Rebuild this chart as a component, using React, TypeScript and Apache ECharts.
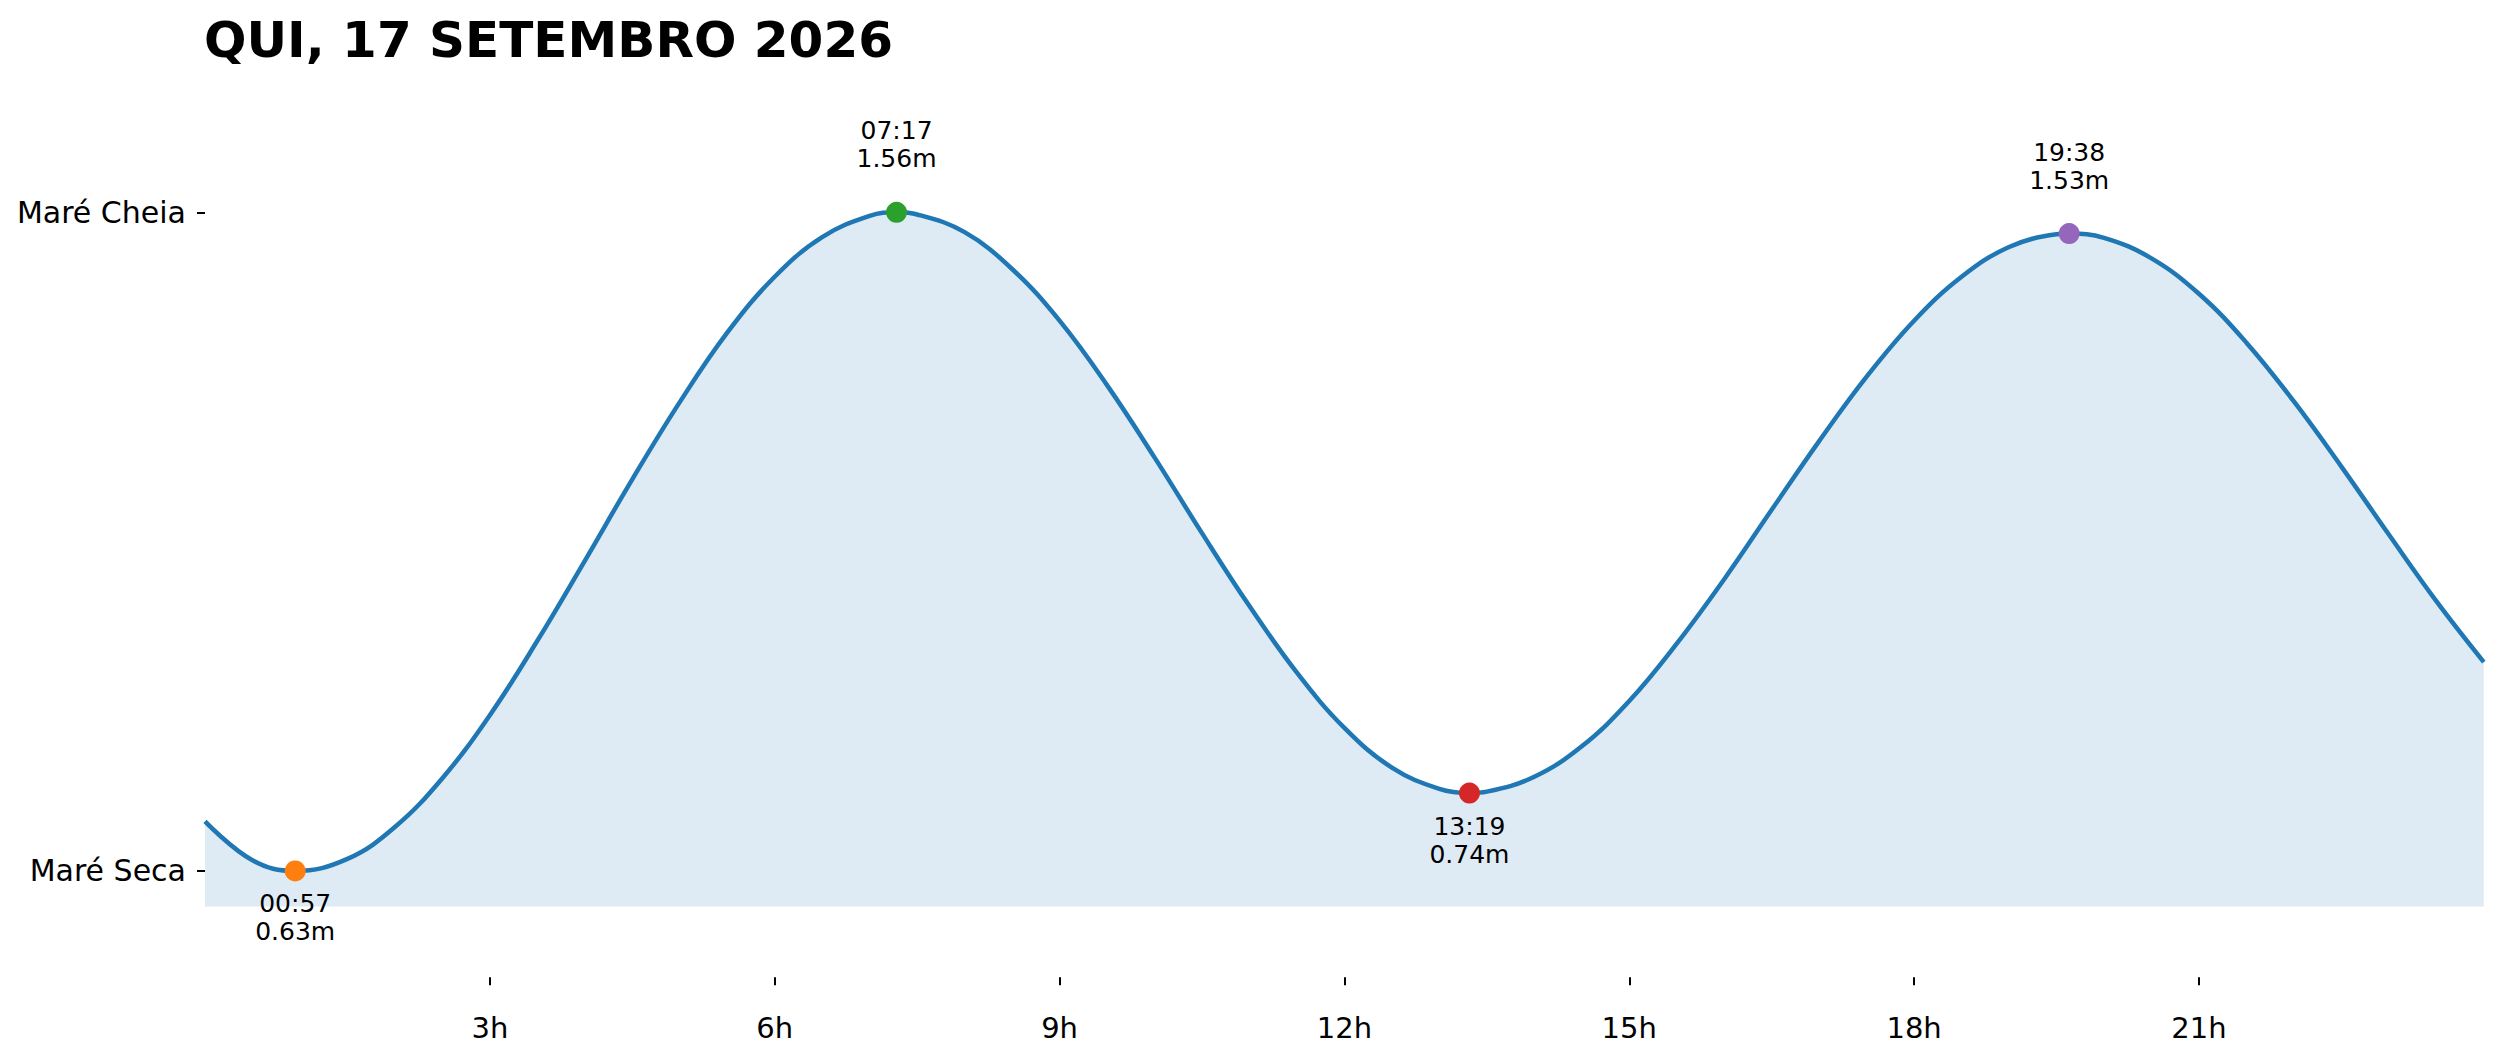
import React, { useEffect, useRef } from "react";
import * as echarts from "echarts";

const TITLE = "QUI, 17 SETEMBRO 2026";

// Tide curve (hour of day, level in metres)
const hours = [
  0, 0.5, 0.95, 1.5, 2, 2.5, 3, 3.5, 4, 4.5, 5, 5.5, 6, 6.5, 7, 7.283, 7.5, 8, 8.5, 9, 9.5,
  10, 10.5, 11, 11.5, 12, 12.5, 13, 13.317, 13.5, 14, 14.5, 15, 15.5, 16, 16.5, 17, 17.5, 18,
  18.5, 19, 19.5, 19.633, 20, 20.5, 21, 21.5, 22, 22.5, 23, 23.5, 24,
];
const levels = [
  0.7, 0.645, 0.63, 0.647, 0.692, 0.761, 0.85, 0.955, 1.068, 1.183, 1.292, 1.39, 1.469, 1.525,
  1.555, 1.56, 1.557, 1.532, 1.48, 1.407, 1.316, 1.214, 1.107, 1.004, 0.91, 0.832, 0.776, 0.746,
  0.74, 0.742, 0.763, 0.806, 0.87, 0.951, 1.042, 1.14, 1.237, 1.328, 1.407, 1.469, 1.511, 1.529,
  1.53, 1.524, 1.495, 1.445, 1.376, 1.293, 1.201, 1.105, 1.011, 0.925,
];

// Extremes
const extremeHours = [0.95, 7.283, 13.317, 19.633];
const extremeLevels = [0.63, 1.56, 0.74, 1.53];
const extremeTimes = ["00:57", "07:17", "13:19", "19:38"];
const extremeIsHigh = [false, true, false, true];
const extremeColors = ["#ff7f0e", "#2ca02c", "#d62728", "#9467bd"];

// Axis ticks
const xTickValues = [3, 6, 9, 12, 15, 18, 21];
const yTickValues = [0.63, 1.56];
const yTickLabels = ["Maré Seca", "Maré Cheia"];

const FONT = "DejaVu Sans";

export default function App() {
  const ref = useRef<HTMLDivElement>(null);

  useEffect(() => {
    document.body.style.margin = "0";
    if (!ref.current) return;
    const chart = echarts.init(ref.current, null, { renderer: "svg" });

    const lineData = hours.map((h, i) => [h, levels[i]]);
    const scatterData = extremeHours.map((h, i) => ({
      value: [h, extremeLevels[i]],
      itemStyle: { color: extremeColors[i], opacity: 1 },
      label: {
        show: true,
        position: extremeIsHigh[i] ? "top" : "bottom",
        distance: extremeIsHigh[i] ? 29 : 8.5,
        formatter: `${extremeTimes[i]}\n${extremeLevels[i].toFixed(2)}m`,
        fontFamily: FONT,
        fontSize: 25,
        lineHeight: 28,
        color: "#000",
        align: "center",
      },
    }));

    chart.setOption({
      animation: false,
      backgroundColor: "#ffffff",
      title: {
        text: TITLE,
        left: 204,
        top: 15,
        padding: 0,
        textStyle: {
          fontFamily: FONT,
          fontSize: 50,
          fontWeight: "bold",
          color: "#000",
          lineHeight: 50,
        },
      },
      grid: { left: 205, right: 17.2, top: 106.1, bottom: 84.8, containLabel: false },
      xAxis: {
        type: "value",
        min: 0,
        max: 24,
        axisLine: { show: false },
        splitLine: { show: false },
        axisTick: {
          show: true,
          customValues: xTickValues,
          length: 8,
          lineStyle: { color: "#000", width: 2 },
        },
        axisLabel: {
          customValues: xTickValues,
          formatter: (v: number) => `${v}h`,
          margin: 36,
          fontFamily: FONT,
          fontSize: 29,
          color: "#000",
        },
      },
      yAxis: {
        type: "value",
        min: 0.48,
        max: 1.71,
        axisLine: { show: false },
        splitLine: { show: false },
        axisTick: {
          show: true,
          customValues: yTickValues,
          length: 8,
          lineStyle: { color: "#000", width: 2 },
        },
        axisLabel: {
          customValues: yTickValues,
          formatter: (v: number) => {
            let best = 0;
            yTickValues.forEach((t, i) => {
              if (Math.abs(t - v) < Math.abs(yTickValues[best] - v)) best = i;
            });
            return yTickLabels[best];
          },
          margin: 19,
          fontFamily: FONT,
          fontSize: 30,
          color: "#000",
        },
      },
      series: [
        {
          type: "line",
          data: lineData,
          smooth: 0.4,
          showSymbol: false,
          symbol: "none",
          lineStyle: { color: "#1f77b4", width: 4.5 },
          areaStyle: { color: "rgba(31,119,180,0.15)", origin: 0.58, opacity: 1 },
          z: 2,
        },
        {
          type: "scatter",
          data: scatterData,
          symbolSize: 21,
          z: 3,
        },
      ],
    });

    return () => chart.dispose();
  }, []);

  return <div ref={ref} style={{ width: 2501, height: 1062 }} />;
}
